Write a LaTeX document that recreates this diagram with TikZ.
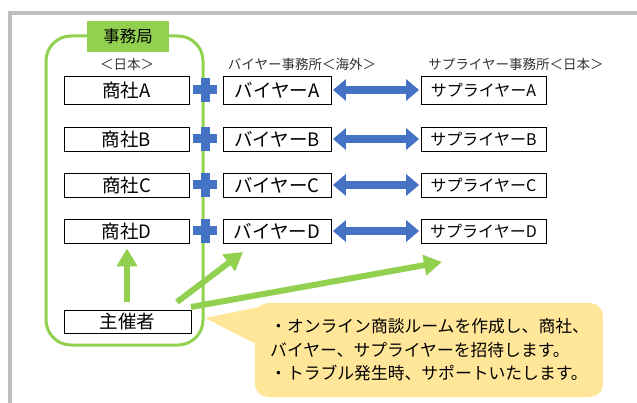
\documentclass[tikz,border=0pt]{standalone}
\usepackage{fontspec}
\setmainfont{Noto Sans CJK JP}
\usetikzlibrary{arrows.meta}
\definecolor{grn}{HTML}{92D050}
\definecolor{blu}{HTML}{4472C4}
\definecolor{bluD}{HTML}{2F5597}
\definecolor{yel}{HTML}{FFE699}
\definecolor{frm}{HTML}{BFBFBF}
\tikzset{
  box/.style={draw=black, line width=0.8pt, fill=white, inner sep=0pt, text=black},
  bigtxt/.style={font=\fontsize{18.5}{18.5}\selectfont},
  suptxt/.style={font=\fontsize{16}{16}\selectfont},
  hdr/.style={font=\fontsize{13.5}{13.5}\selectfont, text=black!80, inner sep=0pt},
  garrow/.style={draw=grn, line width=6pt, -{Triangle[width=20pt,length=18pt]}},
  barrow/.style={draw=blu, line width=8pt, {Triangle[width=21pt,length=13pt]}-{Triangle[width=21pt,length=13pt]}, shorten <=1.5pt, shorten >=1.5pt},
  plusbar/.style={fill=blu}
}
\begin{document}
\begin{tikzpicture}[x=1pt,y=-1pt]
\useasboundingbox (0,0) rectangle (637,403);
% frame
\draw[frm, line width=4pt] (9.5,403) -- (9.5,13) -- (637,13);
% group
\draw[grn, line width=3pt, rounded corners=25pt] (46,36) rectangle (203,345);
\node[fill=grn, minimum width=82pt, minimum height=31pt, inner sep=0pt, font=\fontsize{16.5}{16.5}\selectfont] (office) at (128,36.5) {事務局};
% headers
\node[hdr] (hjp) at (127,64) {＜日本＞};
\node[hdr] (hbuy) at (302,64) {バイヤー事務所＜海外＞};
\node[hdr] (hsup) at (516,64) {サプライヤー事務所＜日本＞};
% rows
\foreach \L/\y/\h in {A/90/28,B/139/24,C/185/24,D/231/24}{
  \node[box, bigtxt, minimum width=125pt, minimum height=\h pt] (s\L) at (126.5,\y) {商社\L};
  \node[box, bigtxt, minimum width=108pt, minimum height=\h pt] (b\L) at (277,\y) {バイヤー\L};
  \node[box, suptxt, minimum width=125pt, minimum height=\h pt] (p\L) at (483.5,\y) {サプライヤー\L};
  \fill[plusbar] (193,\y-4.5) rectangle (217,\y+4.5);
  \fill[plusbar] (200.5,\y-12) rectangle (209.5,\y+12);
  \draw[barrow] (b\L.east) -- (p\L.west);
}
% host
\node[box, bigtxt, minimum width=127pt, minimum height=23pt] (host) at (127.5,321.5) {主催者};
% callout
\fill[yel] (264,306) -- (205,318) -- (258,345) -- cycle;
\node[fill=yel, rounded corners=13pt, minimum width=348pt, minimum height=94pt, inner sep=0pt] (note) at (429,350) {};
\node[anchor=west, align=left, inner sep=0pt, font=\fontsize{16.8}{23.5}\selectfont] (notetxt) at (270,350)
  {・オンライン商談ルームを作成し、商社、\\バイヤー、サプライヤーを招待します。\\・トラブル発生時、サポートいたします。};
% green arrows
\coordinate (g1s) at (127,302);
\draw[garrow] (g1s) -- ([yshift=-5pt]sD.south -| g1s);
\coordinate (g2s) at (177,302);
\coordinate (g2e) at (243,252);
\draw[garrow] (g2s) -- (g2e);
\coordinate (g3s) at (191,307);
\coordinate (g3e) at (442,262);
\draw[garrow] (g3s) -- (g3e);
\end{tikzpicture}
\end{document}
